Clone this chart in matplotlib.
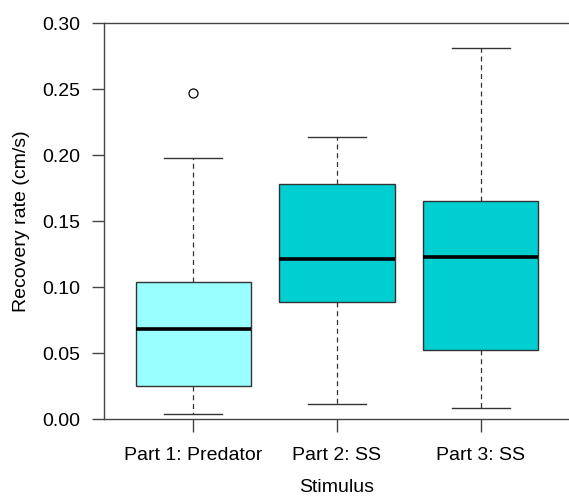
import numpy as np
import matplotlib.pyplot as plt

plt.rcParams['font.family'] = ['Liberation Sans', 'DejaVu Sans']

# values
groups = ['Part 1: Predator', 'Part 2: SS', 'Part 3: SS']
whislo = [0.0038, 0.0114, 0.0081]
q1 = [0.0250, 0.0889, 0.0523]
med = [0.0680, 0.1215, 0.1227]
q3 = [0.1035, 0.1778, 0.1650]
whishi = [0.1977, 0.2140, 0.2813]
fliers = [[0.247], [], []]
fills = ['#99FFFF', '#00CED1', '#00CED1']

stats = []
for i in range(len(groups)):
    stats.append(dict(label=groups[i], whislo=whislo[i], q1=q1[i], med=med[i],
                      q3=q3[i], whishi=whishi[i], fliers=fliers[i]))

fig = plt.figure(figsize=(5.69, 4.97), dpi=100)
ax = fig.add_axes([104/569, 78/497, 466/569, 396/497])

edge = '#333333'
bp = ax.bxp(stats, positions=[1, 2, 3], widths=0.8, patch_artist=True,
            boxprops=dict(edgecolor=edge, linewidth=1.0),
            medianprops=dict(color='black', linewidth=2.6, solid_capstyle='butt'),
            whiskerprops=dict(color=edge, linewidth=0.9, linestyle=(0, (4, 3))),
            capprops=dict(color=edge, linewidth=1.0),
            flierprops=dict(marker='o', markerfacecolor='none', markeredgecolor='black',
                            markersize=6.5, markeredgewidth=0.9))
for patch, c in zip(bp['boxes'], fills):
    patch.set_facecolor(c)

ax.set_xlim(0.38, 3.62)
ax.set_ylim(0, 0.30)
ax.set_yticks(np.arange(0, 0.31, 0.05))
ax.set_yticklabels(['%.2f' % v for v in np.arange(0, 0.31, 0.05)])
ax.set_xticks([1, 2, 3])
ax.set_xticklabels(groups)

for s in ax.spines.values():
    s.set_color('#444444')
    s.set_linewidth(1.0)
ax.tick_params(axis='both', labelsize=14, color='#444444', width=1.0, length=9)
ax.tick_params(axis='y', pad=8)
ax.tick_params(axis='x', pad=11)

ax.set_xlabel('Stimulus', fontsize=14, labelpad=11)
ax.set_ylabel('Recovery rate (cm/s)', fontsize=14, labelpad=9)

fig.savefig('out.png', dpi=100)
